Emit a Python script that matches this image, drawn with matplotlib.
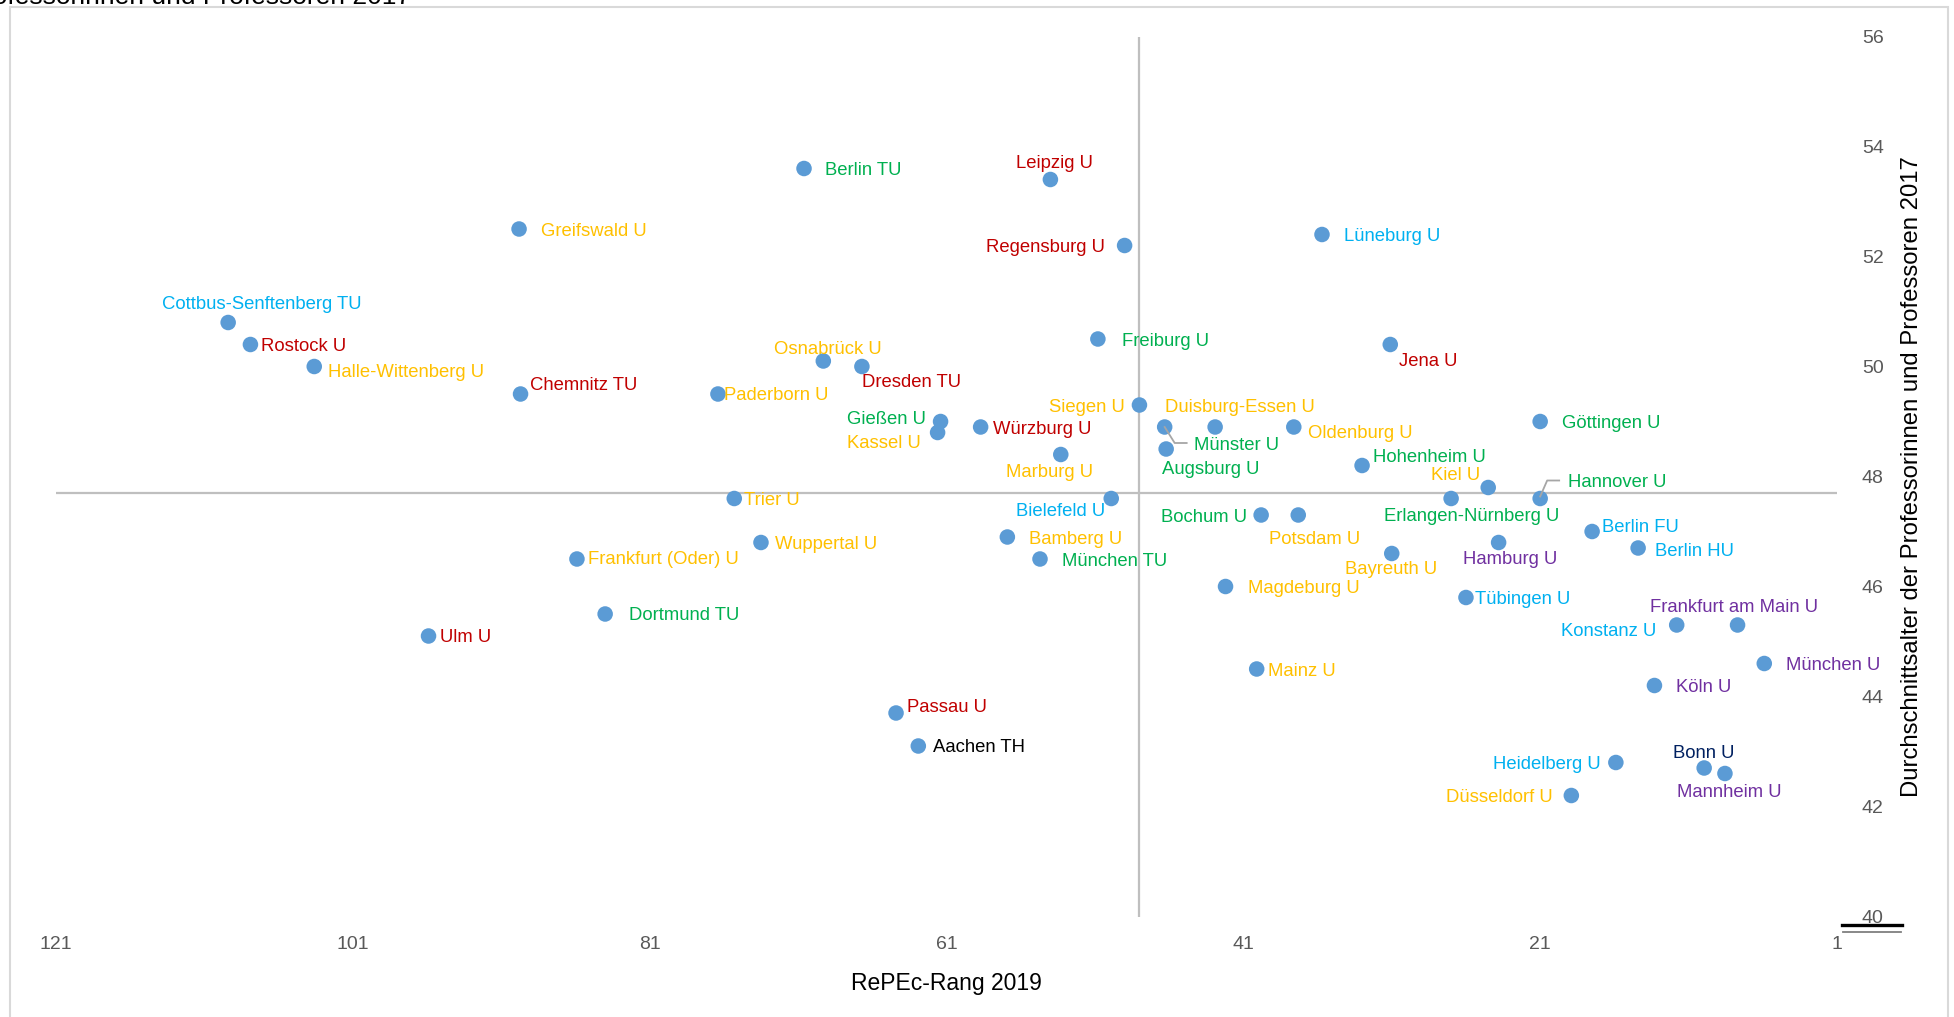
import matplotlib
matplotlib.use("Agg")
import matplotlib.pyplot as plt
import matplotlib.transforms as mtransforms
from matplotlib.lines import Line2D
from matplotlib.patches import Rectangle

plt.rcParams['font.family'] = ['Liberation Sans', 'DejaVu Sans']

GREEN = "#00B050"
RED = "#C00000"
YELLOW = "#FFC000"
LBLUE = "#00B0F0"
PURPLE = "#7030A0"
NAVY = "#002060"
BLACK = "#000000"

universities = [
    "Berlin TU", "Leipzig U", "Greifswald U", "Regensburg U", "Lüneburg U",
    "Cottbus-Senftenberg TU", "Rostock U", "Halle-Wittenberg U", "Chemnitz TU",
    "Osnabrück U", "Dresden TU", "Paderborn U", "Freiburg U", "Jena U",
    "Siegen U", "Duisburg-Essen U", "Gießen U", "Kassel U", "Würzburg U",
    "Münster U", "Augsburg U", "Oldenburg U", "Marburg U", "Hohenheim U",
    "Kiel U", "Göttingen U", "Hannover U", "Erlangen-Nürnberg U", "Trier U",
    "Bielefeld U", "Bochum U", "Potsdam U", "Berlin FU", "Berlin HU",
    "Hamburg U", "Bayreuth U", "Wuppertal U", "Frankfurt (Oder) U", "Bamberg U",
    "München TU", "Magdeburg U", "Tübingen U", "Frankfurt am Main U",
    "Konstanz U", "Dortmund TU", "Ulm U", "München U", "Köln U", "Mainz U",
    "Passau U", "Aachen TH", "Heidelberg U", "Bonn U", "Mannheim U",
    "Düsseldorf U",
]

repec_rank = [
    70.6, 54.0, 89.8, 49.0, 35.7,
    109.4, 107.9, 103.6, 89.7,
    69.3, 66.7, 76.4, 50.8, 31.1,
    48.0, 42.9, 61.4, 61.6, 58.7,
    46.3, 46.2, 37.6, 53.3, 33.0,
    24.5, 21.0, 21.0, 27.0, 75.3,
    49.9, 39.8, 37.3, 17.5, 14.4,
    23.8, 31.0, 73.5, 85.9, 56.9,
    54.7, 42.2, 26.0, 7.7,
    11.8, 84.0, 95.9, 5.9, 13.3, 40.1,
    64.4, 62.9, 15.9, 9.95, 8.55,
    18.9,
]

mean_age = [
    53.6, 53.4, 52.5, 52.2, 52.4,
    50.8, 50.4, 50.0, 49.5,
    50.1, 50.0, 49.5, 50.5, 50.4,
    49.3, 48.9, 49.0, 48.8, 48.9,
    48.9, 48.5, 48.9, 48.4, 48.2,
    47.8, 49.0, 47.6, 47.6, 47.6,
    47.6, 47.3, 47.3, 47.0, 46.7,
    46.8, 46.6, 46.8, 46.5, 46.9,
    46.5, 46.0, 45.8, 45.3,
    45.3, 45.5, 45.1, 44.6, 44.2, 44.5,
    43.7, 43.1, 42.8, 42.7, 42.6,
    42.2,
]

label_colors = [
    GREEN, RED, YELLOW, RED, LBLUE,
    LBLUE, RED, YELLOW, RED,
    YELLOW, RED, YELLOW, GREEN, RED,
    YELLOW, YELLOW, GREEN, YELLOW, RED,
    GREEN, GREEN, YELLOW, YELLOW, GREEN,
    YELLOW, GREEN, GREEN, GREEN, YELLOW,
    LBLUE, GREEN, YELLOW, LBLUE, LBLUE,
    PURPLE, YELLOW, YELLOW, YELLOW, YELLOW,
    GREEN, YELLOW, LBLUE, PURPLE,
    LBLUE, GREEN, RED, PURPLE, PURPLE, YELLOW,
    RED, BLACK, LBLUE, NAVY, PURPLE,
    YELLOW,
]

# reference (crosshair) lines
ref_rank = 48
ref_age = 47.7

x_ticks = [121, 101, 81, 61, 41, 21, 1]
y_ticks = [40, 42, 44, 46, 48, 50, 52, 54, 56]

# label placement (style): (ha, dx px, dy px downward)
label_pos = [
    ("left", 21, 0), ("center", 4, -18), ("left", 22, 0), ("right", -20, 0), ("left", 22, 0),
    ("center", 34, -20), ("left", 11, 0), ("left", 14, 4), ("left", 9, -11),
    ("center", 4, -14), ("left", 0, 14), ("left", 6, 0), ("left", 24, 0), ("left", 9, 15),
    ("right", -15, 0), ("center", 25, -22), ("right", -15, -4), ("right", -17, 9), ("left", 12, 0),
    ("left", 29, 17), ("center", 45, 19), ("left", 14, 4), ("center", -11, 16), ("left", 11, -10),
    ("right", -8, -14), ("left", 22, 0), ("left", 28, -18), ("center", 21, 16), ("left", 10, 0),
    ("right", -6, 11), ("right", -14, 0), ("center", 16, 22), ("left", 10, -6), ("left", 17, 1),
    ("center", 12, 15), ("center", -1, 14), ("left", 14, 0), ("left", 11, -1), ("left", 22, 0),
    ("left", 22, 0), ("left", 22, 0), ("left", 9, 0), ("center", -4, -20),
    ("right", -20, 5), ("left", 24, 0), ("left", 11, 0), ("left", 22, 0), ("left", 22, 0), ("left", 11, 0),
    ("left", 11, -8), ("left", 15, 0), ("right", -15, 0), ("center", 0, -16), ("center", 4, 17),
    ("right", -19, 0),
]
LABEL_SHIFT = 2  # small global downward nudge, px

# leader lines (style): name -> list of pixel offsets (dx, dy downward)
leaders = {
    "Münster U": [(0, 0), (10, 16), (22, 16)],
    "Hannover U": [(0, -2), (7, -18), (19, -18)],
}

W, H = 1954, 1017
fig = plt.figure(figsize=(W / 100, H / 100), dpi=100)
ax = fig.add_axes([56 / W, 1 - 916.5 / H, (1837 - 56) / W, (916.5 - 36.5) / H])

ax.set_xlim(121, 1)
ax.set_ylim(40, 56)

ax.plot([x_ticks[0], x_ticks[-1]], [ref_age, ref_age], color="#bfbfbf", lw=1.6, zorder=1)
ax.plot([ref_rank, ref_rank], [y_ticks[0], y_ticks[-1]], color="#bfbfbf", lw=1.6, zorder=1)

ax.scatter(repec_rank, mean_age, s=125, color="#5B9BD5", edgecolors="none", zorder=3)

for name, x, y, c, (ha, dx, dy) in zip(universities, repec_rank, mean_age, label_colors, label_pos):
    ax.annotate(name, (x, y), xytext=(dx, -(dy + LABEL_SHIFT)), textcoords="offset pixels",
                ha=ha, va="center", color=c, fontsize=13.3, zorder=4)

for name, verts in leaders.items():
    i = universities.index(name)
    px, py = ax.transData.transform((repec_rank[i], mean_age[i]))
    xs = [px + v[0] for v in verts]
    ys = [py - v[1] for v in verts]
    fig.add_artist(Line2D(xs, ys, color="#a6a6a6", lw=1.3,
                          transform=mtransforms.IdentityTransform(), zorder=2))

for s in ax.spines.values():
    s.set_visible(False)

ax.set_xticks(x_ticks)
ax.set_xticklabels([str(t) for t in x_ticks])
ax.set_yticks(y_ticks)
ax.set_yticklabels([str(t) for t in y_ticks])
ax.yaxis.tick_right()
ax.yaxis.set_label_position("right")
ax.tick_params(axis="both", length=0, labelsize=14, labelcolor="#595959")
ax.tick_params(axis="x", pad=14)
ax.tick_params(axis="y", pad=18)

ax.set_xlabel("RePEc-Rang 2019", fontsize=16.5, color="black", labelpad=14)
ax.set_ylabel("Durchschnittsalter der Professorinnen und Professoren 2017",
              fontsize=17.2, color="black", labelpad=12)

# partially visible chart title at the very top (cut off in the reference too)
fig.text(411 / W, 1 - 4 / H, "Durchschnittsalter der Professorinnen und Professoren 2017",
         ha="right", va="baseline", fontsize=19, color="black")

# chart-area border
fig.add_artist(Rectangle((10 / W, -0.05), (1948 - 10) / W, 0.05 + 1 - 6.5 / H,
                         transform=fig.transFigure, fill=False, edgecolor="#d9d9d9", lw=1.5))

# small axis artefact near the bottom-right corner
fig.add_artist(Line2D([1842 / W, 1902 / W], [1 - 925 / H] * 2, color="black", lw=2.4,
                      transform=fig.transFigure))
fig.add_artist(Line2D([1843 / W, 1901 / W], [1 - 932 / H] * 2, color="#7f7f7f", lw=1.3,
                      transform=fig.transFigure))

fig.savefig("out.png", dpi=100)
